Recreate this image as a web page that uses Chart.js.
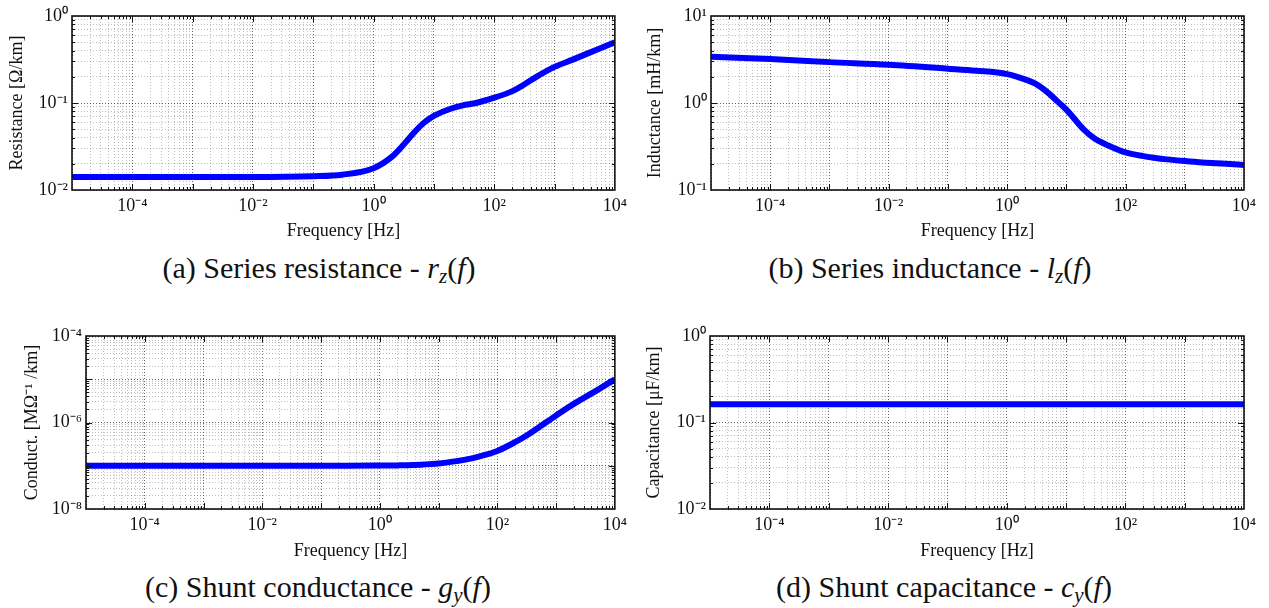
<!DOCTYPE html>
<html>
<head>
<meta charset="utf-8">
<script src="https://cdn.jsdelivr.net/npm/chart.js@4.4.1/dist/chart.umd.min.js"></script>
<style>
  body { margin: 0; background: #fff; width: 1269px; height: 608px; position: relative; overflow: hidden; font-family: "Liberation Serif", serif; }
  canvas { position: absolute; }
  .cap { position: absolute; width: 600px; font-size: 30px; line-height: 36px; white-space: nowrap; text-align: center; color: #111; }
  .cap sub { font-size: 0.7em; vertical-align: -0.25em; line-height: 0; }
</style>
</head>
<body>
<canvas id="chartA" width="632" height="242" style="left:0;top:0"></canvas>
<canvas id="chartB" width="637" height="242" style="left:632px;top:0"></canvas>
<canvas id="chartC" width="632" height="242" style="left:0;top:320px"></canvas>
<canvas id="chartD" width="637" height="242" style="left:632px;top:320px"></canvas>
<div class="cap" style="left:19px;top:250px">(a) Series resistance - <i>r</i><sub><i>z</i></sub>(<i>f</i>)</div>
<div class="cap" style="left:630px;top:250px">(b) Series inductance - <i>l</i><sub><i>z</i></sub>(<i>f</i>)</div>
<div class="cap" style="left:18px;top:569px">(c) Shunt conductance - <i>g</i><sub><i>y</i></sub>(<i>f</i>)</div>
<div class="cap" style="left:644px;top:569px">(d) Shunt capacitance - <i>c</i><sub><i>y</i></sub>(<i>f</i>)</div>
<script>
// --- data ---
const freqs = [1e-5, 1e-4, 1e-3, 1e-2, 1e-1, 0.3, 1, 2, 3, 5, 7, 10, 20, 30, 50, 100, 200, 300, 500, 1000, 2000, 5000, 1e4];
const resistance = [0.0141, 0.0141, 0.0141, 0.0141, 0.0144, 0.015, 0.0178, 0.024, 0.032, 0.048, 0.06, 0.071, 0.087, 0.094, 0.1, 0.115, 0.137, 0.16, 0.2, 0.26, 0.315, 0.41, 0.5];
const inductance = [3.4, 3.2, 2.95, 2.75, 2.48, 2.35, 2.15, 1.87, 1.67, 1.3, 1.05, 0.84, 0.49, 0.39, 0.327, 0.27, 0.245, 0.235, 0.225, 0.215, 0.207, 0.2, 0.194];
const conductance = [1.0e-7, 1.0e-7, 1.0e-7, 1.0e-7, 1.0e-7, 1.0e-7, 1.01e-7, 1.02e-7, 1.03e-7, 1.06e-7, 1.09e-7, 1.13e-7, 1.28e-7, 1.4e-7, 1.65e-7, 2.2e-7, 3.5e-7, 4.8e-7, 7.6e-7, 1.46e-6, 2.7e-6, 5.6e-6, 1.0e-5];
const capacitance = [0.163, 0.163, 0.163, 0.163, 0.163, 0.163, 0.163, 0.163, 0.163, 0.163, 0.163, 0.163, 0.163, 0.163, 0.163, 0.163, 0.163, 0.163, 0.163, 0.163, 0.163, 0.163, 0.163];

// exponents that get a tick label
const xLabelExps = [-4, -2, 0, 2, 4];
const resLabelExps = [-2, -1, 0];
const indLabelExps = [-1, 0, 1];
const condLabelExps = [-8, -6, -4];
const capLabelExps = [-2, -1, 0];

const SUP = { '-': '\u207B', '0': '\u2070', '1': '\u00B9', '2': '\u00B2', '3': '\u00B3', '4': '\u2074', '5': '\u2075', '6': '\u2076', '7': '\u2077', '8': '\u2078', '9': '\u2079' };
const powLabel = e => '10' + String(e).split('').map(c => SUP[c]).join('');
const isDecade = v => Math.abs(Math.log10(v) - Math.round(Math.log10(v))) < 1e-9;

function logTicks(lo, hi) {
  const out = [];
  for (let d = lo; d < hi; d++) {
    for (let m = 1; m < 10; m++) out.push({ value: m * Math.pow(10, d) });
  }
  out.push({ value: Math.pow(10, hi) });
  return out;
}

const TXT = '#111';
const tickFont = { family: '"Liberation Serif", serif', size: 18 };
const titleFont = { family: '"Liberation Serif", serif', size: 18 };

const gridOpts = {
  drawTicks: false,
  lineWidth: 1,
  color: c => (c.tick && isDecade(c.tick.value)) ? 'rgba(0,0,0,0.6)' : 'rgba(0,0,0,0.25)'
};
const borderOpts = { display: false, dash: [1, 2] };

// inward ticks on all four sides + the box
const framePlugin = {
  id: 'frame',
  afterDraw(chart) {
    const { ctx, chartArea: a, scales: { x, y } } = chart;
    ctx.save();
    ctx.strokeStyle = '#111';
    ctx.lineWidth = 1;
    ctx.beginPath();
    x.ticks.forEach(t => {
      const px = Math.round(x.getPixelForValue(t.value)) + 0.5;
      if (px <= a.left + 1 || px >= a.right - 1) return;
      const len = isDecade(t.value) ? 6 : 3;
      ctx.moveTo(px, a.bottom); ctx.lineTo(px, a.bottom - len);
      ctx.moveTo(px, a.top); ctx.lineTo(px, a.top + len);
    });
    y.ticks.forEach(t => {
      const py = Math.round(y.getPixelForValue(t.value)) + 0.5;
      if (py <= a.top + 1 || py >= a.bottom - 1) return;
      const len = isDecade(t.value) ? 6 : 3;
      ctx.moveTo(a.left, py); ctx.lineTo(a.left + len, py);
      ctx.moveTo(a.right, py); ctx.lineTo(a.right - len, py);
    });
    ctx.stroke();
    ctx.lineWidth = 1.6;
    ctx.strokeRect(a.left, a.top, a.right - a.left, a.bottom - a.top);
    ctx.restore();
  }
};

function makeChart(id, values, yLo, yHi, yLabelExps, yTitle, g) {
  return new Chart(document.getElementById(id), {
    type: 'line',
    data: {
      datasets: [{
        data: freqs.map((f, i) => ({ x: f, y: values[i] })),
        borderColor: '#0000ff',
        borderWidth: 6,
        pointRadius: 0,
        cubicInterpolationMode: 'monotone',
        clip: 0
      }]
    },
    options: {
      responsive: false,
      animation: false,
      events: [],
      layout: { padding: { left: 0, top: 16, right: g.right, bottom: 0 } },
      plugins: { legend: { display: false }, tooltip: { enabled: false } },
      scales: {
        x: {
          type: 'logarithmic',
          min: 1e-5, max: 1e4,
          afterBuildTicks: s => { s.ticks = logTicks(-5, 4); },
          afterFit: s => { s.height = g.xh; },
          grid: gridOpts,
          border: borderOpts,
          ticks: {
            autoSkip: false, maxRotation: 0, minRotation: 0, padding: 5,
            color: TXT, font: tickFont,
            callback: v => (isDecade(v) && xLabelExps.includes(Math.round(Math.log10(v)))) ? powLabel(Math.round(Math.log10(v))) : ''
          },
          title: { display: true, text: 'Frequency [Hz]', color: TXT, font: titleFont, padding: 0 }
        },
        y: {
          type: 'logarithmic',
          min: Math.pow(10, yLo), max: Math.pow(10, yHi),
          afterBuildTicks: s => { s.ticks = logTicks(yLo, yHi); },
          afterFit: s => { s.width = g.left; },
          grid: gridOpts,
          border: borderOpts,
          ticks: {
            autoSkip: false, padding: 4,
            color: TXT, font: tickFont,
            callback: v => (isDecade(v) && yLabelExps.includes(Math.round(Math.log10(v)))) ? powLabel(Math.round(Math.log10(v))) : ''
          },
          title: { display: true, text: yTitle, color: TXT, font: titleFont, padding: { top: g.tp, bottom: 0 } }
        }
      }
    },
    plugins: [framePlugin]
  });
}

makeChart('chartA', resistance, -2, 0, resLabelExps, 'Resistance [\u03A9/km]', { left: 72, right: 16, xh: 52, tp: 6 });
makeChart('chartB', inductance, -1, 1, indLabelExps, 'Inductance [mH/km]', { left: 79, right: 25, xh: 52, tp: 12 });
makeChart('chartC', conductance, -8, -4, condLabelExps, 'Conduct. [M\u03A9\u207B\u00B9 /km]', { left: 86, right: 16, xh: 53, tp: 21 });
makeChart('chartD', capacitance, -2, 0, capLabelExps, 'Capacitance [\u03BCF/km]', { left: 78, right: 25, xh: 53, tp: 11 });
</script>
</body>
</html>
